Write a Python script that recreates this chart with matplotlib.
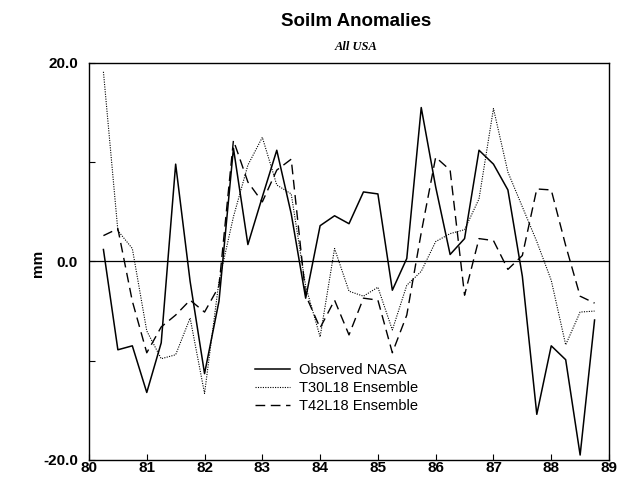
import matplotlib

matplotlib.use("Agg")
import matplotlib.pyplot as plt
import numpy as np

# seasonal anomalies, 1980.25 .. 1988.75 (mm)
years = 80.25 + 0.25 * np.arange(35)
observed_nasa = [1.2, -8.9, -8.5, -13.2, -8.2, 9.8, -2.0, -11.3, -4.0, 11.4,
                 1.7, 6.5, 11.2, 4.8, -3.7, 3.6, 4.6, 3.8, 7.0, 6.8,
                 -2.9, 0.3, 15.5, 7.5, 0.7, 2.3, 11.2, 9.8, 7.2, -1.5,
                 -15.4, -8.5, -9.9, -19.5, -5.9]
t30l18 = [19.1, 3.1, 1.3, -7.0, -9.8, -9.4, -5.7, -13.3, -2.0, 4.5,
          9.7, 12.5, 7.7, 6.8, -2.5, -7.6, 1.3, -3.0, -3.5, -2.6,
          -6.9, -2.4, -1.0, 2.0, 2.8, 3.2, 6.3, 15.4, 9.0, 5.5,
          2.0, -1.9, -8.4, -5.1, -5.0]
t42l18 = [2.6, 3.3, -4.0, -9.2, -6.6, -5.4, -3.9, -5.1, -2.5, 12.2,
          8.0, 6.0, 9.2, 10.3, -3.4, -6.7, -3.9, -7.4, -3.7, -3.9,
          -9.2, -5.4, 2.9, 10.5, 9.2, -3.4, 2.3, 2.1, -0.8, 0.6,
          7.3, 7.2, 1.6, -3.5, -4.2]
xtick_years = list(range(80, 90))
ytick_vals = [-20, -10, 0, 10, 20]
ytick_text = ["-20.0", "", "0.0", "", "20.0"]

plt.rcParams["font.family"] = ["Liberation Sans", "DejaVu Sans"]

fig = plt.figure(figsize=(6.24, 4.8), dpi=100)
ax = fig.add_axes([0.1426, 0.0417, 0.8334, 0.8273])

ax.plot(years, observed_nasa, color="black", lw=1.1, label="Observed NASA")
ax.plot(years, t30l18, color="black", lw=0.8, ls=(0, (1, 1.2)), label="T30L18 Ensemble")
ax.plot(years, t42l18, color="black", lw=1.0, ls=(0, (7, 4)), label="T42L18 Ensemble")
ax.axhline(0, color="black", lw=0.9)

ax.set_xlim(80, 89)
ax.set_ylim(-20, 20)
ax.set_xticks(xtick_years)
ax.set_xticklabels([str(v) for v in xtick_years], fontweight="bold", fontsize=11)
ax.set_yticks(ytick_vals)
ax.set_yticklabels(ytick_text, fontweight="bold", fontsize=11)
ax.tick_params(direction="in", length=4, width=0.8, pad=1)
ax.tick_params(axis="y", pad=8)
for sp in ax.spines.values():
    sp.set_linewidth(1.0)

fig.text(0.061, 0.452, "mm", rotation=90, ha="center", va="center",
         fontsize=11, fontweight="bold")

fig.text(0.57, 0.955, "Soilm Anomalies", ha="center", va="center",
         fontsize=13.5, fontweight="bold")
fig.text(0.57, 0.903, "All USA", ha="center", va="center", fontsize=9,
         fontweight="bold", style="italic", family=["Liberation Serif", "DejaVu Serif"])

ax.legend(loc="center left", bbox_to_anchor=(0.305, 0.181), frameon=False,
          fontsize=10.5, borderpad=0, handlelength=2.4, handletextpad=0.6,
          labelspacing=0.3)

fig.savefig("out.png", dpi=100)
